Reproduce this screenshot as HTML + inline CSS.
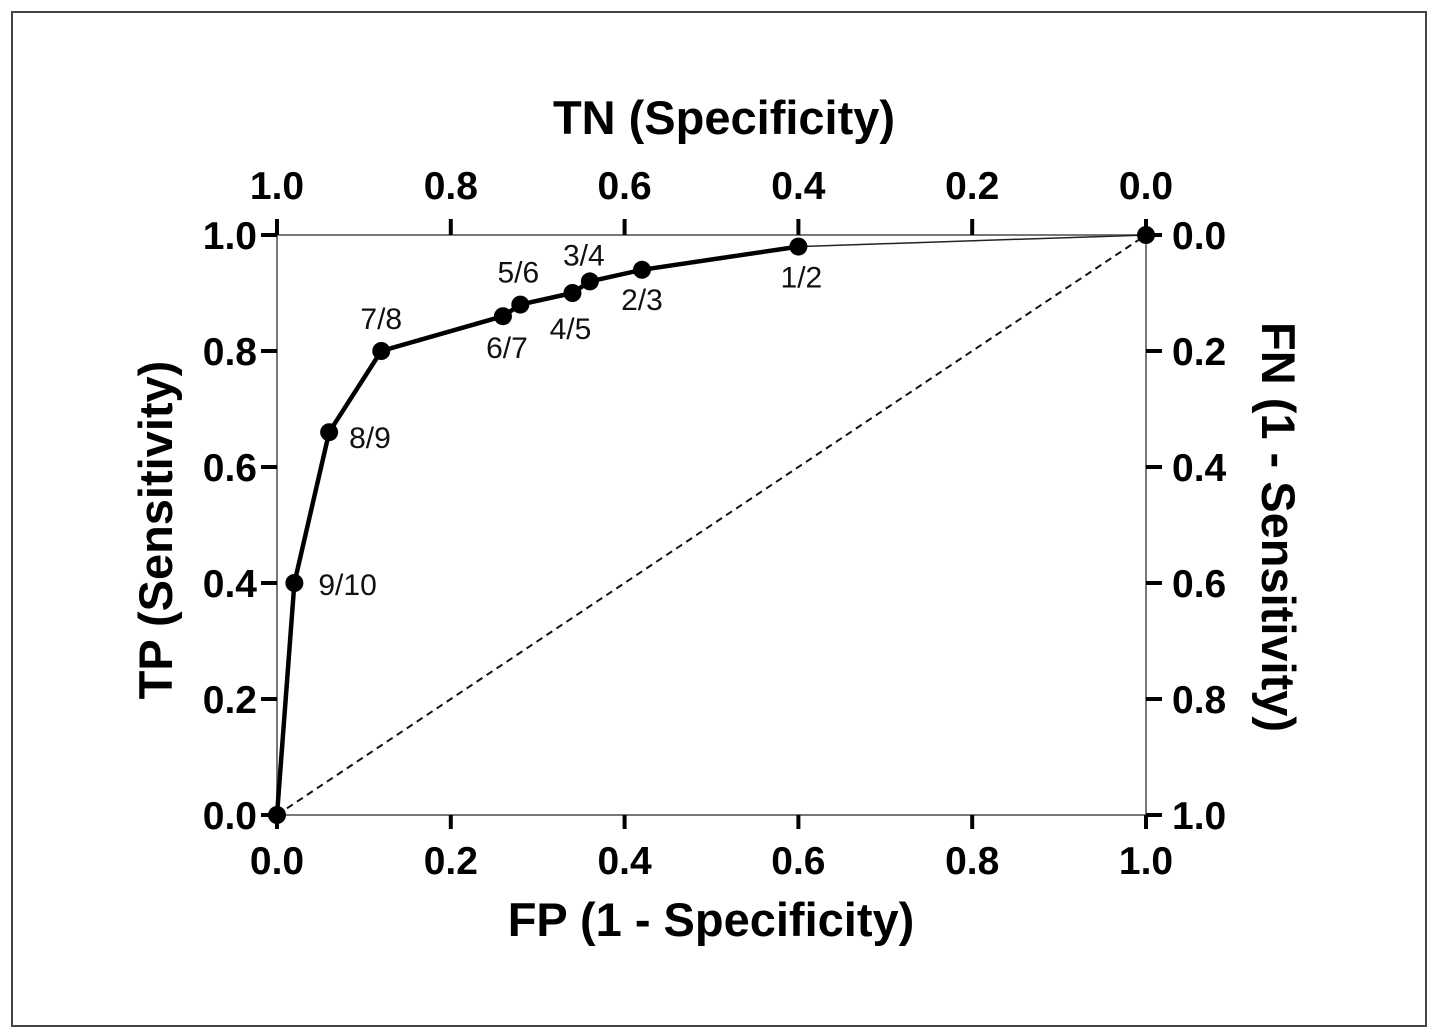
<!DOCTYPE html>
<html><head><meta charset="utf-8"><style>
html,body{margin:0;padding:0;background:#fff;}
svg{display:block;font-family:"Liberation Sans",Arial,sans-serif;}
</style></head><body>
<svg id="chart" width="1431" height="1030" viewBox="0 0 1431 1030">
<rect x="12" y="12" width="1414" height="1014" fill="#fff" stroke="#444" stroke-width="2"/>
<g id="g"></g>
</svg>
<script>
const fpValues=[0,0.02,0.06,0.12,0.26,0.28,0.34,0.36,0.42,0.60];
const tpValues=[0,0.40,0.66,0.80,0.86,0.88,0.90,0.92,0.94,0.98];
const pointLabels=["","9/10","8/9","7/8","6/7","5/6","4/5","3/4","2/3","1/2"];
const endPoint=[1,1];
const xTicks=["0.0","0.2","0.4","0.6","0.8","1.0"];
const topTicks=["1.0","0.8","0.6","0.4","0.2","0.0"];
const yTicks=["0.0","0.2","0.4","0.6","0.8","1.0"];
const rightTicks=["1.0","0.8","0.6","0.4","0.2","0.0"];

const X0=277,X1=1146,Y0=815,Y1=235;
const sx=v=>X0+(X1-X0)*v, sy=v=>Y0-(Y0-Y1)*v;
const NS="http://www.w3.org/2000/svg", g=document.getElementById('g');
function mk(t,a,txt){const e=document.createElementNS(NS,t);for(const k in a)e.setAttribute(k,a[k]);if(txt!=null)e.textContent=txt;g.appendChild(e);return e;}

let e;
e=mk('rect',{x:X0,y:Y1,width:X1-X0,height:Y0-Y1,fill:'none',stroke:'#777','stroke-width':2});


e=mk('line',{x1:sx(0),y1:sy(0),x2:sx(1),y2:sy(1),stroke:'#111','stroke-width':2,'stroke-dasharray':'7,5'});



xTicks.forEach((t,i)=>{const v=i/5;
 e=mk('line',{x1:sx(v),y1:Y0,x2:sx(v),y2:Y0+14,stroke:'#000','stroke-width':4});
 
 
 e=mk('text',{x:sx(v),y:874,'font-size':39,'font-weight':'bold','text-anchor':'middle'},t);
 
 
 e=mk('line',{x1:sx(v),y1:Y1,x2:sx(v),y2:Y1-16,stroke:'#000','stroke-width':4});
 
 
 e=mk('text',{x:sx(v),y:199,'font-size':39,'font-weight':'bold','text-anchor':'middle'},topTicks[i]);
 
 
});
yTicks.forEach((t,i)=>{const v=i/5;
 e=mk('line',{x1:X0-16,y1:sy(v),x2:X0,y2:sy(v),stroke:'#000','stroke-width':4});
 
 
 e=mk('text',{x:257,y:sy(v)+14,'font-size':39,'font-weight':'bold','text-anchor':'end'},t);
 
 
 e=mk('line',{x1:X1,y1:sy(v),x2:X1+16,y2:sy(v),stroke:'#000','stroke-width':4});
 
 
 e=mk('text',{x:1172,y:sy(v)+14,'font-size':39,'font-weight':'bold','text-anchor':'start'},rightTicks[i]);
 
 
});

e=mk('text',{x:711,y:936,'font-size':47,'font-weight':'bold','text-anchor':'middle'},'FP (1 - Specificity)');


e=mk('text',{x:724,y:134,'font-size':47,'font-weight':'bold','text-anchor':'middle'},'TN (Specificity)');


e=mk('text',{x:0,y:0,'font-size':47,'font-weight':'bold','text-anchor':'middle',transform:'translate(172,530) rotate(-90)'},'TP (Sensitivity)');


e=mk('text',{x:0,y:0,'font-size':47,'font-weight':'bold','text-anchor':'middle',transform:'translate(1262,527) rotate(90)'},'FN (1 - Sensitivity)');



const n=fpValues.length;
e=mk('line',{x1:sx(fpValues[n-1]),y1:sy(tpValues[n-1]),x2:sx(endPoint[0]),y2:sy(endPoint[1]),stroke:'#222','stroke-width':1.5});


e=mk('polyline',{points:fpValues.map((v,i)=>sx(v)+','+sy(tpValues[i])).join(' '),fill:'none',stroke:'#000','stroke-width':4.5,'stroke-linejoin':'round'});



const offs={"9/10":[24,12,'start'],"8/9":[20,16,'start'],"7/8":[0,-22,'middle'],"6/7":[4,42,'middle'],"5/6":[-2,-22,'middle'],"4/5":[-2,46,'middle'],"3/4":[-6,-16,'middle'],"2/3":[0,40,'middle'],"1/2":[3,41,'middle']};
fpValues.forEach((v,i)=>{
 e=mk('circle',{cx:sx(v),cy:sy(tpValues[i]),r:9,fill:'#000'});
 
 
 const l=pointLabels[i];
 if(l){const o=offs[l]||[0,-20,'middle'];
  e=mk('text',{x:sx(v)+o[0],y:sy(tpValues[i])+o[1],'font-size':30,'text-anchor':o[2],fill:'#111'},l);
  
  }
});
e=mk('circle',{cx:sx(endPoint[0]),cy:sy(endPoint[1]),r:9,fill:'#000'});


</script>
</body></html>
